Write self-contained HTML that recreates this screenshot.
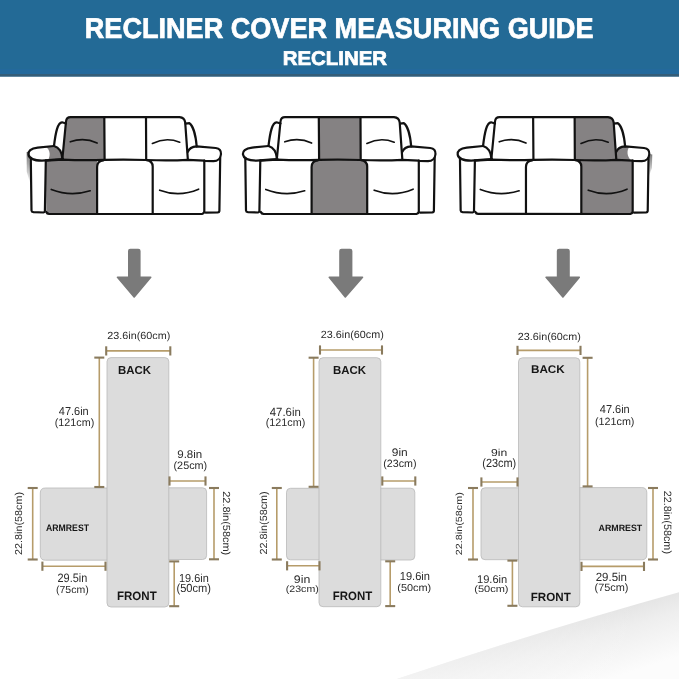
<!DOCTYPE html>
<html><head><meta charset="utf-8"><title>Recliner Cover Measuring Guide</title>
<style>html,body{margin:0;padding:0;background:#fff;width:679px;height:679px;overflow:hidden}svg{display:block;will-change:transform}text{font-family:"Liberation Sans",sans-serif}</style>
</head><body>
<svg width="679" height="679" viewBox="0 0 679 679" font-family="Liberation Sans, sans-serif" text-rendering="geometricPrecision">
<defs><linearGradient id="shd" x1="0" y1="0" x2="0.15" y2="1"><stop offset="0" stop-color="#e6e6e6"/><stop offset="1" stop-color="#fbfbfb"/></linearGradient></defs>
<rect width="679" height="679" fill="#ffffff"/>
<defs><linearGradient id="shd2" gradientUnits="userSpaceOnUse" x1="600" y1="616" x2="619" y2="676"><stop offset="0" stop-color="#e5e5e5"/><stop offset="0.3" stop-color="#eeeeee"/><stop offset="1" stop-color="#fcfcfc"/></linearGradient><linearGradient id="shd3" gradientUnits="userSpaceOnUse" x1="395" y1="0" x2="640" y2="0"><stop offset="0" stop-color="#fff" stop-opacity="0.55"/><stop offset="1" stop-color="#fff" stop-opacity="0"/></linearGradient></defs>
<path d="M397,679 Q540,631 679,592.3 L679,679 Z" fill="url(#shd2)"/>
<path d="M397,679 Q540,631 679,592.3 L679,679 Z" fill="url(#shd3)"/>
<rect x="0" y="0" width="679" height="76.5" fill="#236a96"/>
<rect x="0" y="69" width="679" height="5" fill="#23699c"/>
<rect x="0" y="74" width="679" height="2.5" fill="#345d78"/>
<defs><g id="sofa">
<g fill="none" stroke="#111" stroke-width="2.2" stroke-linecap="round" stroke-linejoin="round">
<path d="M62.4,158.5 L66,121.5 Q66.5,117.2 70.5,117.2 L179.5,117.2 Q184.5,117.6 185.2,122.5 L187.8,158.8"/>
<path d="M104.3,117.3 L104.6,159.6"/>
<path d="M146,117.4 L146.2,159.8"/>
<path d="M54,146 C55.5,133 57.5,122.5 62,122.3 L66,123.5"/>
<path d="M185.6,123.6 L189.4,123.2 C193,125.5 195.8,136 196.7,146.3"/>
<path d="M54,146 L37.7,147.6 C30.5,148.3 28.1,151.5 28.5,154.5 C29,158.2 34,160.6 42,160.7 L55,159.6 L63,159"/>
<path d="M54,146 C59,147.5 61.8,151 62.4,158.5"/>
<path d="M30.8,158 L31.5,210.5 Q31.6,212 33.5,212.2 L43.5,212.5 Q44.8,212.3 44.9,211 L45.8,160.6"/>
<path d="M45.8,160.6 L62.4,159.6 Q83,160.6 104.5,159.9 Q125,159.4 146.2,160 Q170,160.7 187.8,159.8 L204.3,160.6"/>
<path d="M103.5,160.3 Q97.2,160.8 97.1,167 L97.1,213.5"/>
<path d="M146.5,160.1 Q152.6,160.8 152.7,166.5 L152.7,213.6"/>
<path d="M46.3,212 Q47,213.8 49,213.9 L202,214 Q204,213.5 204.3,211.5 L204.3,160.6"/>
<path d="M187.8,152 C189,148.5 192.5,146.5 196.7,146.3 L215.7,148 C219.3,148.6 221.2,151 221,154 C220.8,158.3 217.5,161 213.5,161.2 L204.5,161"/>
<path d="M220.2,157.5 L219.4,211 Q219.2,212.3 217.8,212.4 L205.5,212.6"/>
<path d="M70.3,141.8 Q84,137 97.1,143" stroke-width="1.7"/>
<path d="M152.4,143.4 Q166,136.8 179.7,142.2" stroke-width="1.7"/>
<path d="M51.3,189.5 Q70.7,197 90.2,190.8" stroke-width="1.7"/>
<path d="M159.7,190.2 Q179,197.5 198.6,189.2" stroke-width="1.7"/>
</g></g><linearGradient id="armshd" x1="0" y1="0" x2="0" y2="1"><stop offset="0" stop-color="#777"/><stop offset="1" stop-color="#777" stop-opacity="0"/></linearGradient></defs>
<g fill="#858283">
<path d="M66,121.5 Q66.5,117.2 70.5,117.2 L104.4,117.3 L104.6,159.6 Q80,160.5 62.4,159 Z"/>
<path d="M45.8,160.6 L97.1,160.6 L97.1,213.8 L49,213.9 Q47,213.8 46.3,212 Z"/>
<path d="M46,147 L54,146 C59,147.5 61.8,151 62.4,158.5 L55,159.6 L48,160.3 C50.5,156 50.5,150 46,147 Z"/>
<path d="M26.6,152 L29.5,152 L30.8,185 L26.8,172 Z" fill="url(#armshd)"/>
</g>
<use href="#sofa" x="0" y="0"/>
<g transform="translate(214.5,0)">
<g fill="#858283">
<path d="M104.3,117.3 L146,117.4 L146.2,159.8 Q125,159 104.6,159.6 Z"/>
<path d="M97.1,167 Q97.2,160.6 103.5,160.4 L146.5,160.3 Q152.6,160.8 152.7,166.5 L152.7,213.9 L97.1,213.8 Z"/>
</g>
<use href="#sofa"/>
</g>
<g transform="translate(429.3,0) scale(0.9955,1)">
<g fill="#858283">
<path d="M146,117.4 L179.5,117.2 Q184.5,117.6 185.2,122.5 L187.8,159 Q170,160.8 146.2,159.8 Z"/>
<path d="M146.2,159.8 Q152.6,160.5 152.7,166.5 L152.7,213.9 L202,214 Q204,213.5 204.3,211.5 L204.3,160.6 Z"/>
<path d="M187.8,152 C189,148.5 192.5,146.5 196.7,146.3 L201,146.7 C198.2,150 198.2,157 203.5,161 L187.8,159.5 Z"/>
<path d="M220.5,154 L224,154.5 L223.6,168 L220,178 Z" fill="url(#armshd)"/>
</g>
<use href="#sofa"/>
</g>
<path d="M128.8,251.10000000000002 Q128.8,249.60000000000002 130.3,249.60000000000002 L138.29999999999998,249.60000000000002 Q139.79999999999998,249.60000000000002 139.79999999999998,251.10000000000002 L139.79999999999998,277.28000000000003 L150.7,277.28000000000003 L134.2,297.02000000000004 L117.5,277.28000000000003 L128.8,277.28000000000003 Z" fill="#7a7a7a" stroke="#7a7a7a" stroke-width="1.6" stroke-linejoin="round"/>
<path d="M340.0,251.10000000000002 Q340.0,249.60000000000002 341.5,249.60000000000002 L350.09999999999997,249.60000000000002 Q351.59999999999997,249.60000000000002 351.59999999999997,251.10000000000002 L351.59999999999997,277.28000000000003 L362.5,277.28000000000003 L345.3,297.02000000000004 L329.3,277.28000000000003 L340.0,277.28000000000003 Z" fill="#7a7a7a" stroke="#7a7a7a" stroke-width="1.6" stroke-linejoin="round"/>
<path d="M557.5999999999999,251.10000000000002 Q557.5999999999999,249.60000000000002 559.0999999999999,249.60000000000002 L567.5,249.60000000000002 Q569.0,249.60000000000002 569.0,251.10000000000002 L569.0,277.28000000000003 L579.3,277.28000000000003 L562.9,297.02000000000004 L546.1,277.28000000000003 L557.5999999999999,277.28000000000003 Z" fill="#7a7a7a" stroke="#7a7a7a" stroke-width="1.6" stroke-linejoin="round"/>
<path d="M45.3,488 L107.99,488 Q108,488 108,488.01 L108,560.19 Q108,560.2 107.99,560.2 L45.3,560.2 Q40.3,560.2 40.3,555.2 L40.3,493 Q40.3,488 45.3,488 Z" fill="#dcdcdc" stroke="#b9b9b9" stroke-width="0.8"/>
<path d="M168.01,487.8 L202.6,487.8 Q206.6,487.8 206.6,491.8 L206.6,555.5 Q206.6,559.5 202.6,559.5 L168.01,559.5 Q168,559.5 168,559.49 L168,487.81 Q168,487.8 168.01,487.8 Z" fill="#dcdcdc" stroke="#b9b9b9" stroke-width="0.8"/>
<path d="M111,357.6 L164.8,357.6 Q168.8,357.6 168.8,361.6 L168.8,603 Q168.8,607 164.8,607 L111,607 Q107,607 107,603 L107,361.6 Q107,357.6 111,357.6 Z" fill="#dcdcdc" stroke="#b9b9b9" stroke-width="0.8"/>
<line x1="106.2" y1="350.9" x2="170.3" y2="350.9" stroke="#b69c6a" stroke-width="1.6"/>
<line x1="106.2" y1="346.29999999999995" x2="106.2" y2="355.5" stroke="#8a7b5e" stroke-width="2.1"/>
<line x1="170.3" y1="346.29999999999995" x2="170.3" y2="355.5" stroke="#8a7b5e" stroke-width="2.1"/>
<line x1="99.3" y1="357.6" x2="99.3" y2="487" stroke="#b69c6a" stroke-width="1.6"/>
<line x1="94.3" y1="357.6" x2="104.3" y2="357.6" stroke="#8a7b5e" stroke-width="2.1"/>
<line x1="94.3" y1="487" x2="104.3" y2="487" stroke="#8a7b5e" stroke-width="2.1"/>
<line x1="32.7" y1="488" x2="32.7" y2="559.5" stroke="#b69c6a" stroke-width="1.6"/>
<line x1="27.700000000000003" y1="488" x2="37.7" y2="488" stroke="#8a7b5e" stroke-width="2.1"/>
<line x1="27.700000000000003" y1="559.5" x2="37.7" y2="559.5" stroke="#8a7b5e" stroke-width="2.1"/>
<line x1="42.4" y1="566.2" x2="105.5" y2="566.2" stroke="#b69c6a" stroke-width="1.6"/>
<line x1="42.4" y1="561.6" x2="42.4" y2="570.8000000000001" stroke="#8a7b5e" stroke-width="2.1"/>
<line x1="105.5" y1="561.6" x2="105.5" y2="570.8000000000001" stroke="#8a7b5e" stroke-width="2.1"/>
<line x1="169.5" y1="481" x2="205.5" y2="481" stroke="#b69c6a" stroke-width="1.6"/>
<line x1="169.5" y1="476.4" x2="169.5" y2="485.6" stroke="#8a7b5e" stroke-width="2.1"/>
<line x1="205.5" y1="476.4" x2="205.5" y2="485.6" stroke="#8a7b5e" stroke-width="2.1"/>
<line x1="214" y1="488" x2="214" y2="559.3" stroke="#b69c6a" stroke-width="1.6"/>
<line x1="209" y1="488" x2="219" y2="488" stroke="#8a7b5e" stroke-width="2.1"/>
<line x1="209" y1="559.3" x2="219" y2="559.3" stroke="#8a7b5e" stroke-width="2.1"/>
<line x1="174.2" y1="561.4" x2="174.2" y2="606.2" stroke="#b69c6a" stroke-width="1.6"/>
<line x1="169.2" y1="561.4" x2="179.2" y2="561.4" stroke="#8a7b5e" stroke-width="2.1"/>
<line x1="169.2" y1="606.2" x2="179.2" y2="606.2" stroke="#8a7b5e" stroke-width="2.1"/>
<path d="M290.5,488.3 L319.99,488.3 Q320,488.3 320,488.31 L320,559.79 Q320,559.8 319.99,559.8 L290.5,559.8 Q286.5,559.8 286.5,555.8 L286.5,492.3 Q286.5,488.3 290.5,488.3 Z" fill="#dcdcdc" stroke="#b9b9b9" stroke-width="0.8"/>
<path d="M380.01,488.2 L410.8,488.2 Q414.8,488.2 414.8,492.2 L414.8,556 Q414.8,560 410.8,560 L380.01,560 Q380,560 380,559.99 L380,488.21 Q380,488.2 380.01,488.2 Z" fill="#dcdcdc" stroke="#b9b9b9" stroke-width="0.8"/>
<path d="M323,357.7 L376.8,357.7 Q380.8,357.7 380.8,361.7 L380.8,602.7 Q380.8,606.7 376.8,606.7 L323,606.7 Q319,606.7 319,602.7 L319,361.7 Q319,357.7 323,357.7 Z" fill="#dcdcdc" stroke="#b9b9b9" stroke-width="0.8"/>
<line x1="320" y1="350" x2="382" y2="350" stroke="#b69c6a" stroke-width="1.6"/>
<line x1="320" y1="345.4" x2="320" y2="354.6" stroke="#8a7b5e" stroke-width="2.1"/>
<line x1="382" y1="345.4" x2="382" y2="354.6" stroke="#8a7b5e" stroke-width="2.1"/>
<line x1="313.6" y1="357.7" x2="313.6" y2="486.8" stroke="#b69c6a" stroke-width="1.6"/>
<line x1="308.6" y1="357.7" x2="318.6" y2="357.7" stroke="#8a7b5e" stroke-width="2.1"/>
<line x1="308.6" y1="486.8" x2="318.6" y2="486.8" stroke="#8a7b5e" stroke-width="2.1"/>
<line x1="276.8" y1="488" x2="276.8" y2="559.5" stroke="#b69c6a" stroke-width="1.6"/>
<line x1="271.8" y1="488" x2="281.8" y2="488" stroke="#8a7b5e" stroke-width="2.1"/>
<line x1="271.8" y1="559.5" x2="281.8" y2="559.5" stroke="#8a7b5e" stroke-width="2.1"/>
<line x1="382.3" y1="481" x2="415.3" y2="481" stroke="#b69c6a" stroke-width="1.6"/>
<line x1="382.3" y1="476.4" x2="382.3" y2="485.6" stroke="#8a7b5e" stroke-width="2.1"/>
<line x1="415.3" y1="476.4" x2="415.3" y2="485.6" stroke="#8a7b5e" stroke-width="2.1"/>
<line x1="287.1" y1="565.8" x2="319.5" y2="565.8" stroke="#b69c6a" stroke-width="1.6"/>
<line x1="287.1" y1="561.1999999999999" x2="287.1" y2="570.4" stroke="#8a7b5e" stroke-width="2.1"/>
<line x1="319.5" y1="561.1999999999999" x2="319.5" y2="570.4" stroke="#8a7b5e" stroke-width="2.1"/>
<line x1="390.2" y1="561.3" x2="390.2" y2="606.1" stroke="#b69c6a" stroke-width="1.6"/>
<line x1="385.2" y1="561.3" x2="395.2" y2="561.3" stroke="#8a7b5e" stroke-width="2.1"/>
<line x1="385.2" y1="606.1" x2="395.2" y2="606.1" stroke="#8a7b5e" stroke-width="2.1"/>
<path d="M485,487.8 L519.49,487.8 Q519.5,487.8 519.5,487.81 L519.5,559.69 Q519.5,559.7 519.49,559.7 L485,559.7 Q481,559.7 481,555.7 L481,491.8 Q481,487.8 485,487.8 Z" fill="#dcdcdc" stroke="#b9b9b9" stroke-width="0.8"/>
<path d="M579.01,487.6 L641.8,487.6 Q646.8,487.6 646.8,492.6 L646.8,554.8 Q646.8,559.8 641.8,559.8 L579.01,559.8 Q579,559.8 579,559.79 L579,487.61 Q579,487.6 579.01,487.6 Z" fill="#dcdcdc" stroke="#b9b9b9" stroke-width="0.8"/>
<path d="M522.5,357.8 L575.8,357.8 Q579.8,357.8 579.8,361.8 L579.8,602.8 Q579.8,606.8 575.8,606.8 L522.5,606.8 Q518.5,606.8 518.5,602.8 L518.5,361.8 Q518.5,357.8 522.5,357.8 Z" fill="#dcdcdc" stroke="#b9b9b9" stroke-width="0.8"/>
<line x1="517.5" y1="350.4" x2="580.5" y2="350.4" stroke="#b69c6a" stroke-width="1.6"/>
<line x1="517.5" y1="345.79999999999995" x2="517.5" y2="355.0" stroke="#8a7b5e" stroke-width="2.1"/>
<line x1="580.5" y1="345.79999999999995" x2="580.5" y2="355.0" stroke="#8a7b5e" stroke-width="2.1"/>
<line x1="587.6" y1="357.8" x2="587.6" y2="486.4" stroke="#b69c6a" stroke-width="1.6"/>
<line x1="582.6" y1="357.8" x2="592.6" y2="357.8" stroke="#8a7b5e" stroke-width="2.1"/>
<line x1="582.6" y1="486.4" x2="592.6" y2="486.4" stroke="#8a7b5e" stroke-width="2.1"/>
<line x1="473" y1="488" x2="473" y2="559.5" stroke="#b69c6a" stroke-width="1.6"/>
<line x1="468" y1="488" x2="478" y2="488" stroke="#8a7b5e" stroke-width="2.1"/>
<line x1="468" y1="559.5" x2="478" y2="559.5" stroke="#8a7b5e" stroke-width="2.1"/>
<line x1="481.4" y1="482" x2="517.5" y2="482" stroke="#b69c6a" stroke-width="1.6"/>
<line x1="481.4" y1="477.4" x2="481.4" y2="486.6" stroke="#8a7b5e" stroke-width="2.1"/>
<line x1="517.5" y1="477.4" x2="517.5" y2="486.6" stroke="#8a7b5e" stroke-width="2.1"/>
<line x1="653" y1="488" x2="653" y2="559.5" stroke="#b69c6a" stroke-width="1.6"/>
<line x1="648" y1="488" x2="658" y2="488" stroke="#8a7b5e" stroke-width="2.1"/>
<line x1="648" y1="559.5" x2="658" y2="559.5" stroke="#8a7b5e" stroke-width="2.1"/>
<line x1="581.5" y1="566.4" x2="644" y2="566.4" stroke="#b69c6a" stroke-width="1.6"/>
<line x1="581.5" y1="561.8" x2="581.5" y2="571.0" stroke="#8a7b5e" stroke-width="2.1"/>
<line x1="644" y1="561.8" x2="644" y2="571.0" stroke="#8a7b5e" stroke-width="2.1"/>
<line x1="512.4" y1="560.6" x2="512.4" y2="605.8" stroke="#b69c6a" stroke-width="1.6"/>
<line x1="507.4" y1="560.6" x2="517.4" y2="560.6" stroke="#8a7b5e" stroke-width="2.1"/>
<line x1="507.4" y1="605.8" x2="517.4" y2="605.8" stroke="#8a7b5e" stroke-width="2.1"/>
<text x="138.75" y="338.54" font-size="10.25" font-weight="normal" fill="#2b2b2b" text-anchor="middle" textLength="63.00" lengthAdjust="spacingAndGlyphs">23.6in(60cm)</text>
<text x="134.50" y="373.94" font-size="11.52" font-weight="bold" fill="#161616" text-anchor="middle" textLength="32.94" lengthAdjust="spacingAndGlyphs">BACK</text>
<text x="73.75" y="414.90" font-size="11.54" font-weight="normal" fill="#2b2b2b" text-anchor="middle" textLength="29.96" lengthAdjust="spacingAndGlyphs">47.6in</text>
<text x="74.50" y="426.02" font-size="10.75" font-weight="normal" fill="#2b2b2b" text-anchor="middle" textLength="39.46" lengthAdjust="spacingAndGlyphs">(121cm)</text>
<text x="67.52" y="531.16" font-size="9.41" font-weight="bold" fill="#161616" text-anchor="middle" textLength="42.94" lengthAdjust="spacingAndGlyphs">ARMREST</text>
<text x="72.37" y="582.22" font-size="12.19" font-weight="normal" fill="#2b2b2b" text-anchor="middle" textLength="29.72" lengthAdjust="spacingAndGlyphs">29.5in</text>
<text x="72.38" y="593.28" font-size="10.31" font-weight="normal" fill="#2b2b2b" text-anchor="middle" textLength="32.70" lengthAdjust="spacingAndGlyphs">(75cm)</text>
<text x="189.76" y="457.98" font-size="11.15" font-weight="normal" fill="#2b2b2b" text-anchor="middle" textLength="25.02" lengthAdjust="spacingAndGlyphs">9.8in</text>
<text x="190.38" y="468.78" font-size="10.75" font-weight="normal" fill="#2b2b2b" text-anchor="middle" textLength="33.70" lengthAdjust="spacingAndGlyphs">(25cm)</text>
<g transform="translate(18.20,523.50) rotate(-90)"><text x="0" y="3.72" font-size="10.05" font-weight="normal" fill="#2b2b2b" text-anchor="middle" textLength="62.98" lengthAdjust="spacingAndGlyphs">22.8in(58cm)</text></g>
<g transform="translate(226.18,523.26) rotate(90)"><text x="0" y="3.64" font-size="10.23" font-weight="normal" fill="#2b2b2b" text-anchor="middle" textLength="63.98" lengthAdjust="spacingAndGlyphs">22.8in(58cm)</text></g>
<text x="193.86" y="582.18" font-size="11.54" font-weight="normal" fill="#2b2b2b" text-anchor="middle" textLength="29.74" lengthAdjust="spacingAndGlyphs">19.6in</text>
<text x="193.75" y="591.95" font-size="11.75" font-weight="normal" fill="#2b2b2b" text-anchor="middle" textLength="34.52" lengthAdjust="spacingAndGlyphs">(50cm)</text>
<text x="136.84" y="600.24" font-size="12.19" font-weight="bold" fill="#161616" text-anchor="middle" textLength="39.70" lengthAdjust="spacingAndGlyphs">FRONT</text>
<text x="352.26" y="338.42" font-size="10.51" font-weight="normal" fill="#2b2b2b" text-anchor="middle" textLength="62.98" lengthAdjust="spacingAndGlyphs">23.6in(60cm)</text>
<text x="349.50" y="373.94" font-size="11.52" font-weight="bold" fill="#161616" text-anchor="middle" textLength="32.98" lengthAdjust="spacingAndGlyphs">BACK</text>
<text x="285.25" y="415.82" font-size="11.87" font-weight="normal" fill="#2b2b2b" text-anchor="middle" textLength="31.00" lengthAdjust="spacingAndGlyphs">47.6in</text>
<text x="285.50" y="426.43" font-size="10.93" font-weight="normal" fill="#2b2b2b" text-anchor="middle" textLength="39.50" lengthAdjust="spacingAndGlyphs">(121cm)</text>
<text x="399.74" y="456.08" font-size="10.95" font-weight="normal" fill="#2b2b2b" text-anchor="middle" textLength="15.98" lengthAdjust="spacingAndGlyphs">9in</text>
<text x="399.88" y="466.86" font-size="10.60" font-weight="normal" fill="#2b2b2b" text-anchor="middle" textLength="33.22" lengthAdjust="spacingAndGlyphs">(23cm)</text>
<g transform="translate(263.09,522.88) rotate(-90)"><text x="0" y="3.75" font-size="10.25" font-weight="normal" fill="#2b2b2b" text-anchor="middle" textLength="63.22" lengthAdjust="spacingAndGlyphs">22.8in(58cm)</text></g>
<text x="302.02" y="583.08" font-size="10.95" font-weight="normal" fill="#2b2b2b" text-anchor="middle" textLength="16.50" lengthAdjust="spacingAndGlyphs">9in</text>
<text x="302.26" y="591.93" font-size="9.38" font-weight="normal" fill="#2b2b2b" text-anchor="middle" textLength="32.98" lengthAdjust="spacingAndGlyphs">(23cm)</text>
<text x="414.86" y="580.40" font-size="11.54" font-weight="normal" fill="#2b2b2b" text-anchor="middle" textLength="30.26" lengthAdjust="spacingAndGlyphs">19.6in</text>
<text x="414.24" y="591.39" font-size="10.05" font-weight="normal" fill="#2b2b2b" text-anchor="middle" textLength="33.98" lengthAdjust="spacingAndGlyphs">(50cm)</text>
<text x="352.48" y="600.24" font-size="12.19" font-weight="bold" fill="#161616" text-anchor="middle" textLength="39.46" lengthAdjust="spacingAndGlyphs">FRONT</text>
<text x="549.26" y="339.52" font-size="10.25" font-weight="normal" fill="#2b2b2b" text-anchor="middle" textLength="62.98" lengthAdjust="spacingAndGlyphs">23.6in(60cm)</text>
<text x="547.86" y="373.24" font-size="11.11" font-weight="bold" fill="#161616" text-anchor="middle" textLength="33.74" lengthAdjust="spacingAndGlyphs">BACK</text>
<text x="614.77" y="413.16" font-size="11.54" font-weight="normal" fill="#2b2b2b" text-anchor="middle" textLength="29.96" lengthAdjust="spacingAndGlyphs">47.6in</text>
<text x="614.73" y="424.62" font-size="10.60" font-weight="normal" fill="#2b2b2b" text-anchor="middle" textLength="39.48" lengthAdjust="spacingAndGlyphs">(121cm)</text>
<text x="499.14" y="455.64" font-size="10.17" font-weight="normal" fill="#2b2b2b" text-anchor="middle" textLength="16.26" lengthAdjust="spacingAndGlyphs">9in</text>
<text x="499.26" y="466.81" font-size="11.93" font-weight="normal" fill="#2b2b2b" text-anchor="middle" textLength="33.98" lengthAdjust="spacingAndGlyphs">(23cm)</text>
<g transform="translate(458.91,523.74) rotate(-90)"><text x="0" y="3.21" font-size="8.92" font-weight="normal" fill="#2b2b2b" text-anchor="middle" textLength="62.98" lengthAdjust="spacingAndGlyphs">22.8in(58cm)</text></g>
<text x="620.38" y="530.98" font-size="9.21" font-weight="bold" fill="#161616" text-anchor="middle" textLength="43.74" lengthAdjust="spacingAndGlyphs">ARMREST</text>
<g transform="translate(667.69,522.37) rotate(90)"><text x="0" y="3.83" font-size="10.60" font-weight="normal" fill="#2b2b2b" text-anchor="middle" textLength="63.24" lengthAdjust="spacingAndGlyphs">22.8in(58cm)</text></g>
<text x="611.37" y="580.56" font-size="11.87" font-weight="normal" fill="#2b2b2b" text-anchor="middle" textLength="31.28" lengthAdjust="spacingAndGlyphs">29.5in</text>
<text x="611.52" y="590.99" font-size="10.71" font-weight="normal" fill="#2b2b2b" text-anchor="middle" textLength="33.98" lengthAdjust="spacingAndGlyphs">(75cm)</text>
<text x="492.13" y="583.00" font-size="11.11" font-weight="normal" fill="#2b2b2b" text-anchor="middle" textLength="30.28" lengthAdjust="spacingAndGlyphs">19.6in</text>
<text x="491.38" y="591.93" font-size="9.38" font-weight="normal" fill="#2b2b2b" text-anchor="middle" textLength="34.22" lengthAdjust="spacingAndGlyphs">(50cm)</text>
<text x="550.74" y="600.86" font-size="11.87" font-weight="bold" fill="#161616" text-anchor="middle" textLength="39.98" lengthAdjust="spacingAndGlyphs">FRONT</text>
<text x="339.10" y="38.46" font-size="28.55" font-weight="bold" fill="#ffffff" stroke="#ffffff" stroke-width="0.7" text-anchor="middle" textLength="508.70" lengthAdjust="spacingAndGlyphs">RECLINER COVER MEASURING GUIDE</text>
<text x="334.85" y="64.88" font-size="19.87" font-weight="bold" fill="#ffffff" stroke="#ffffff" stroke-width="0.7" text-anchor="middle" textLength="104.28" lengthAdjust="spacingAndGlyphs">RECLINER</text>
</svg>
</body></html>
